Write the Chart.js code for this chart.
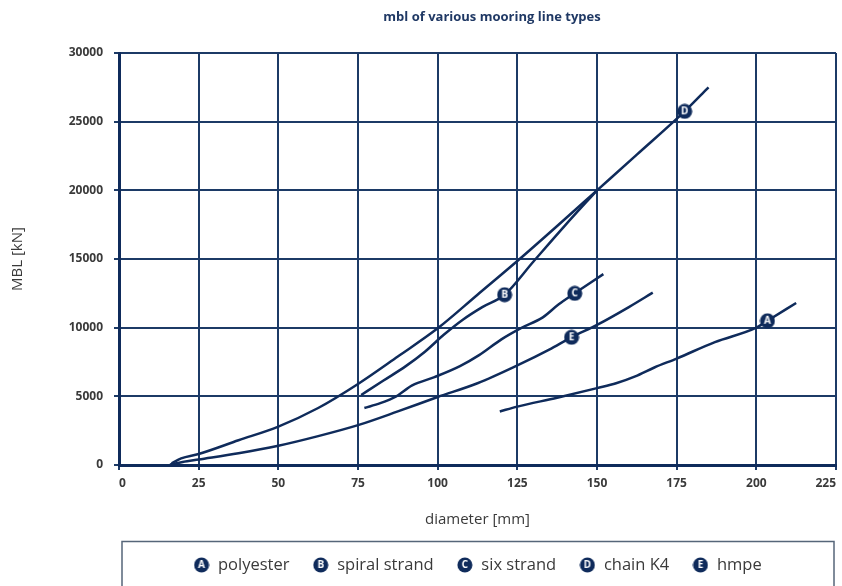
<!DOCTYPE html>
<html>
<head>
<meta charset="utf-8">
<script src="https://cdn.jsdelivr.net/npm/chart.js@4.4.1/dist/chart.umd.min.js"></script>
<style>
  body { margin: 0; background: #fff; }
</style>
</head>
<body>
<canvas id="mblChart" width="842" height="586"></canvas>
<script>
// values (diameter in mm, MBL in kN)
const polyesterDia = [119.5, 125, 137.5, 150, 156, 162, 168, 175, 187, 200, 203.5, 212.5];
const polyesterMbl = [3900, 4250, 4900, 5600, 5950, 6450, 7100, 7750, 8950, 10000, 10500, 11800];

const spiralDia = [76, 83, 90, 96, 102, 108, 114, 121, 130, 140, 150];
const spiralMbl = [5100, 6150, 7200, 8250, 9500, 10600, 11500, 12400, 14800, 17450, 20000];

const sixDia = [77, 82, 87, 92, 99, 107, 113, 120, 126, 133, 138, 143, 152];
const sixMbl = [4150, 4500, 5000, 5800, 6400, 7200, 8000, 9150, 9950, 10750, 11700, 12500, 13900];

const chainDia = [16.5, 19.5, 25, 37.5, 50, 62.5, 75, 87.5, 100, 112.5, 125, 137.5, 150, 162.5, 177.5, 185];
const chainMbl = [120, 480, 800, 1800, 2800, 4150, 5900, 7900, 9950, 12400, 14850, 17400, 20000, 22600, 25750, 27500];

const hmpeDia = [16, 20, 25, 37.5, 50, 62.5, 75, 87.5, 100, 112.5, 125, 135, 142, 150, 160, 167.5];
const hmpeMbl = [30, 220, 400, 850, 1400, 2100, 2900, 3900, 4950, 5950, 7250, 8400, 9300, 10200, 11500, 12550];

const seriesNames = ['polyester', 'spiral strand', 'six strand', 'chain K4', 'hmpe'];
const seriesLetters = ['A', 'B', 'C', 'D', 'E'];
// which point of each series carries the letter badge
const badgeIndex = [10, 7, 11, 14, 12];

const xTicks = [0, 25, 50, 75, 100, 125, 150, 175, 200, 225];
const yTicks = [0, 5000, 10000, 15000, 20000, 25000, 30000];

const navy = '#0f2b5b';
const gridNavy = '#1c3a66';
const textGrey = '#3a3a3a';

function makeBadge(letter) {
  const size = 16;
  const c = document.createElement('canvas');
  c.width = size; c.height = size;
  const g = c.getContext('2d');
  g.fillStyle = navy;
  g.beginPath();
  g.arc(size / 2, size / 2, size / 2 - 0.5, 0, Math.PI * 2);
  g.fill();
  g.fillStyle = '#fff';
  g.font = 'bold 10px "Open Sans"';
  g.textAlign = 'center';
  g.textBaseline = 'middle';
  g.fillText(letter, size / 2, size / 2 + 0.5);
  return c;
}

function toPoints(xs, ys) {
  return xs.map((x, i) => ({ x: x, y: ys[i] }));
}

const allDia = [polyesterDia, spiralDia, sixDia, chainDia, hmpeDia];
const allMbl = [polyesterMbl, spiralMbl, sixMbl, chainMbl, hmpeMbl];

const datasets = seriesNames.map((name, s) => ({
  label: name,
  data: toPoints(allDia[s], allMbl[s]),
  borderColor: navy,
  backgroundColor: navy,
  borderWidth: 2.5,
  tension: 0.4,
  cubicInterpolationMode: 'monotone',
  pointStyle: makeBadge(seriesLetters[s]),
  pointRadius: ctx => ctx.dataIndex === badgeIndex[s] ? 8 : 0,
  pointHoverRadius: 0,
  fill: false
}));

// title and the frame round the legend
const decorations = {
  id: 'decorations',
  afterDraw(chart) {
    const ctx = chart.ctx;
    const area = chart.chartArea;
    ctx.save();
    ctx.fillStyle = '#1f3864';
    ctx.font = 'bold 13px "Open Sans"';
    ctx.textAlign = 'center';
    ctx.textBaseline = 'middle';
    ctx.fillText('mbl of various mooring line types', 492, 17);
    ctx.strokeStyle = '#566679';
    ctx.lineWidth = 1.5;
    ctx.strokeRect(area.left + 3, 541.5, area.width - 5, 60);
    ctx.restore();
  }
};

const tickFont = { family: 'Open Sans', size: 12, weight: 'bold' };

new Chart(document.getElementById('mblChart'), {
  type: 'line',
  data: { datasets: datasets },
  plugins: [decorations],
  options: {
    responsive: false,
    animation: false,
    events: [],
    layout: { padding: { top: 53, right: 4, bottom: 2.75, left: 0 } },
    plugins: {
      title: { display: false },
      tooltip: { enabled: false },
      legend: {
        position: 'bottom',
        fullSize: false,
        labels: {
          usePointStyle: true,
          padding: 23,
          color: textGrey,
          font: { family: 'Open Sans', size: 16.5 }
        }
      }
    },
    scales: {
      x: {
        type: 'linear',
        min: 0,
        max: 225,
        afterBuildTicks: scale => { scale.ticks = xTicks.map(v => ({ value: v })); },
        afterFit: scale => { scale.height = 68.75; },
        ticks: { align: 'inner', padding: 6, color: textGrey, font: tickFont, callback: v => String(v) },
        grid: { color: gridNavy, lineWidth: 2, tickLength: 5 },
        border: { color: navy, width: 3 },
        title: {
          display: true,
          text: 'diameter [mm]',
          color: textGrey,
          font: { family: 'Open Sans', size: 15 },
          padding: { top: 0, bottom: 4.75 }
        }
      },
      y: {
        min: 0,
        max: 30000,
        afterBuildTicks: scale => { scale.ticks = yTicks.map(v => ({ value: v })); },
        afterFit: scale => { scale.width = 119; },
        ticks: { padding: 11, color: textGrey, font: tickFont, callback: v => String(v) },
        grid: { color: gridNavy, lineWidth: 2, tickLength: 5 },
        border: { color: navy, width: 3 },
        title: {
          display: true,
          text: 'MBL [kN]',
          color: textGrey,
          font: { family: 'Open Sans', size: 15 },
          padding: { top: 9, bottom: 0 }
        }
      }
    }
  }
});
</script>
</body>
</html>
